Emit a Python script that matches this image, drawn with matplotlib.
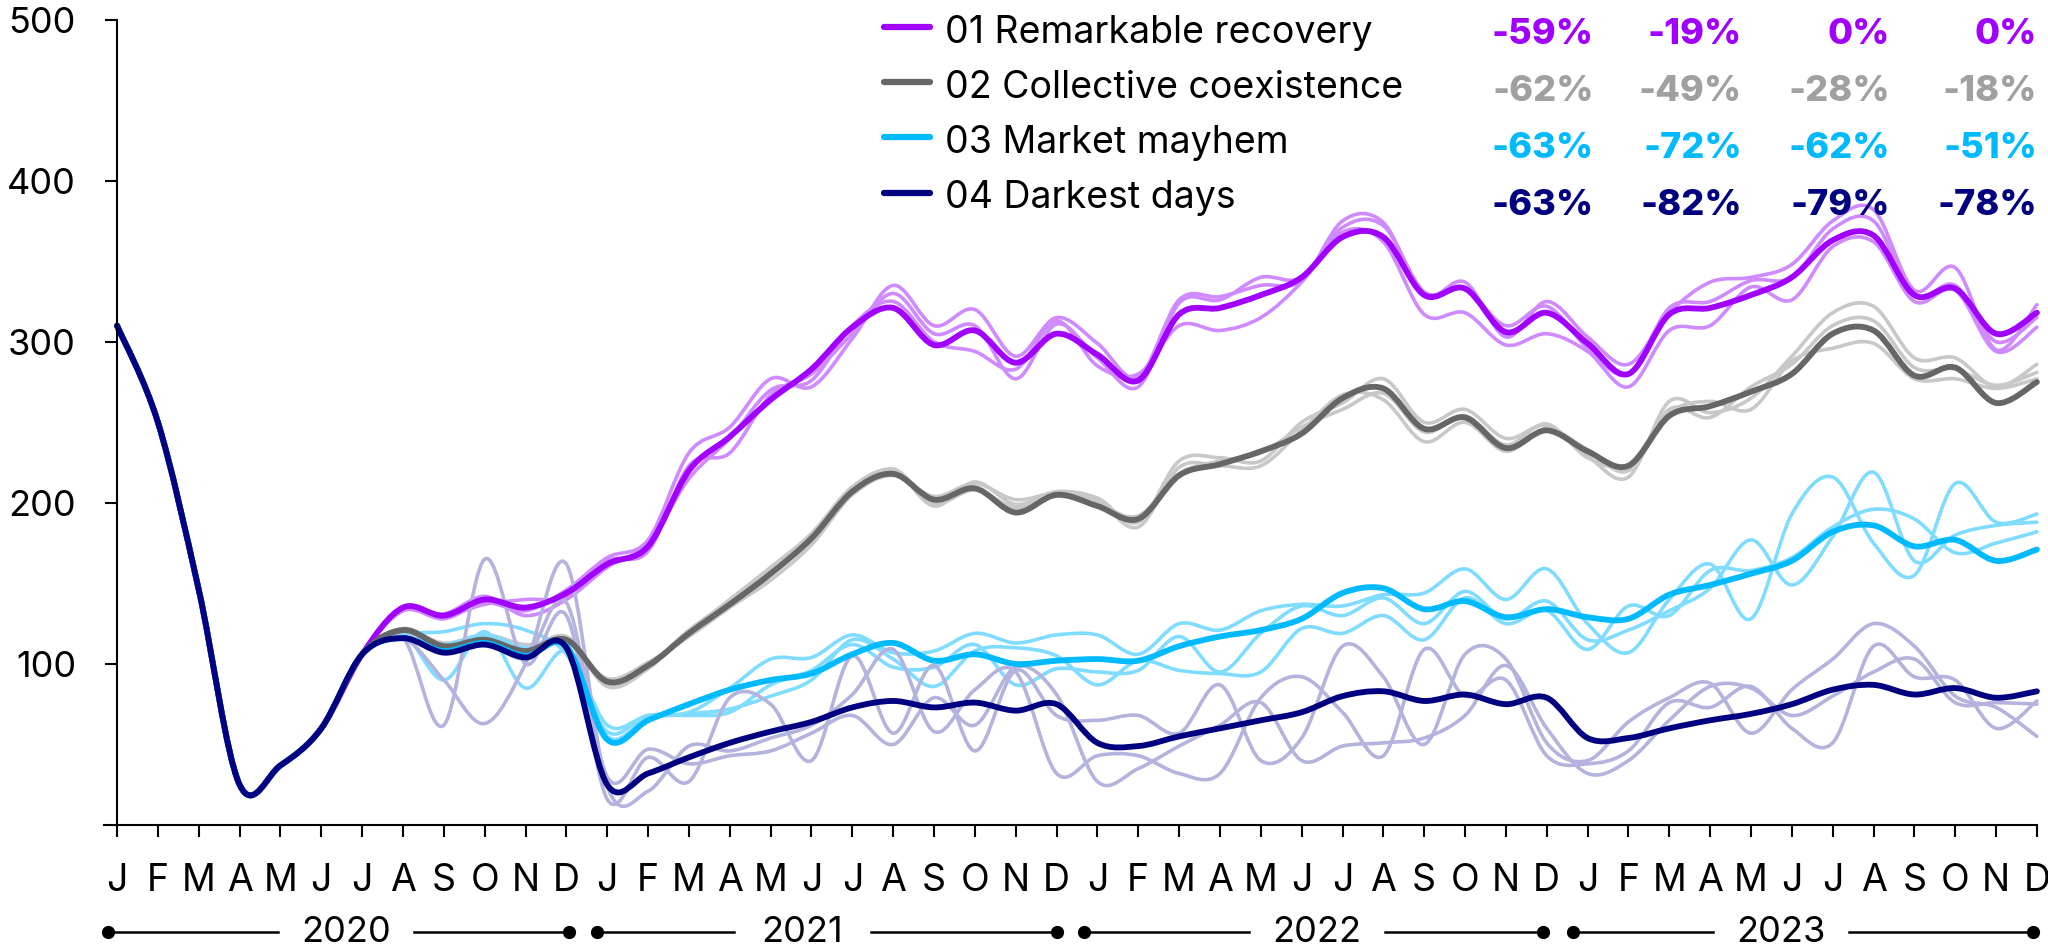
import matplotlib
matplotlib.use("Agg")
import matplotlib.pyplot as plt
from matplotlib.path import Path
from matplotlib.patches import PathPatch
from matplotlib.lines import Line2D
import numpy as np

plt.rcParams['font.family'] = ['Inter', 'DejaVu Sans']

months = ["J", "F", "M", "A", "M", "J", "J", "A", "S", "O", "N", "D"] * 4
years = ["2020", "2021", "2022", "2023"]
year_start = [-0.22, 11.74, 23.67, 35.64]
year_end = [11.06, 23.0, 34.9, 46.9]
year_mid = [5.6, 16.78, 29.37, 40.73]

# Jan-Jul 2020, same for every line
shared = [310, 250, 146, 25, 37, 60, 106]

# Aug 2020 - Dec 2023
recovery = [135, 130, 140, 135, 144,
            162, 173, 220, 241, 264, 283, 309, 321, 298, 307, 287, 305,
            292, 276, 317, 321, 329, 340, 365, 365, 329, 333, 306, 318,
            299, 280, 317, 321, 329, 340, 363, 366, 329, 333, 305, 318]
recovery_alt1 = [133, 128, 138, 133, 146,
                 166, 177, 231, 247, 277, 272, 302, 335, 310, 320, 291, 315,
                 299, 278, 326, 328, 335, 338, 375, 374, 329, 337, 303, 325,
                 303, 286, 318, 337, 340, 348, 375, 382, 332, 346, 295, 323]
recovery_alt2 = [135, 130, 137, 140, 142,
                 164, 170, 223, 231, 267, 280, 305, 330, 305, 310, 277, 311,
                 290, 272, 324, 326, 340, 340, 371, 372, 331, 333, 310, 322,
                 296, 280, 321, 325, 338, 340, 370, 375, 329, 335, 300, 315]
recovery_alt3 = [133, 131, 142, 130, 140,
                 160, 175, 215, 240, 270, 276, 310, 325, 300, 294, 283, 313,
                 285, 280, 310, 307, 315, 337, 368, 362, 317, 318, 298, 305,
                 294, 272, 307, 310, 334, 326, 359, 362, 325, 332, 294, 309]

coexist = [121, 111, 115, 108, 115,
           89, 99, 119, 137, 156, 178, 207, 218, 202, 209, 194, 205,
           198, 190, 217, 224, 232, 243, 265, 271, 246, 253, 234, 245,
           232, 223, 254, 260, 269, 280, 305, 307, 279, 284, 262, 275]
coexist_alt1 = [120, 113, 117, 110, 116,
                86, 97, 120, 140, 160, 181, 210, 220, 198, 213, 199, 207,
                203, 188, 226, 228, 226, 250, 262, 277, 250, 258, 240, 248,
                229, 216, 263, 256, 265, 291, 318, 322, 290, 290, 272, 286]
coexist_alt2 = [119, 110, 118, 112, 114,
                91, 101, 117, 135, 152, 174, 205, 217, 204, 212, 202, 206,
                201, 185, 222, 223, 223, 245, 267, 264, 238, 250, 232, 246,
                233, 220, 258, 253, 272, 286, 310, 313, 284, 283, 273, 281]
coexist_alt3 = [122, 112, 114, 109, 117,
                88, 99, 121, 139, 158, 180, 208, 221, 200, 208, 197, 204,
                199, 192, 218, 226, 231, 247, 258, 268, 244, 254, 236, 249,
                228, 224, 256, 263, 258, 288, 296, 299, 277, 277, 271, 277]

mayhem = [116, 108, 113, 105, 111,
          53, 65, 75, 84, 90, 94, 106, 113, 102, 106, 100, 102,
          103, 102, 111, 117, 121, 128, 144, 147, 134, 139, 129, 134,
          129, 128, 143, 149, 156, 164, 182, 186, 173, 177, 164, 171]
mayhem_alt1 = [118, 90, 120, 85, 108,
               62, 68, 70, 85, 103, 104, 118, 107, 108, 119, 113, 118,
               118, 106, 125, 121, 133, 137, 136, 143, 144, 159, 140, 159,
               125, 107, 140, 162, 128, 193, 216, 175, 155, 212, 188, 193]
mayhem_alt2 = [118, 120, 125, 121, 106,
               58, 68, 68, 70, 87, 96, 112, 98, 98, 112, 87, 97,
               95, 96, 117, 95, 119, 136, 130, 141, 125, 145, 128, 139,
               115, 121, 133, 147, 177, 149, 179, 219, 164, 180, 186, 188]
mayhem_alt3 = [116, 112, 118, 110, 110,
               55, 66, 69, 72, 80, 90, 115, 103, 86, 108, 110, 105,
               87, 102, 96, 94, 95, 122, 119, 130, 115, 141, 125, 133,
               109, 136, 130, 158, 158, 166, 185, 196, 190, 169, 175, 182]

darkest = [116, 107, 112, 104, 110,
           25, 32, 42, 51, 58, 64, 73, 77, 73, 76, 71, 75,
           51, 49, 55, 60, 65, 70, 80, 83, 77, 81, 75, 79,
           54, 54, 60, 65, 69, 75, 84, 87, 81, 85, 79, 83]
darkest_alt1 = [116, 62, 165, 100, 130,
                16, 42, 27, 79, 75, 40, 105, 57, 99, 46, 96, 68,
                65, 68, 57, 87, 40, 54, 111, 92, 50, 106, 103, 51,
                40, 64, 79, 88, 57, 84, 103, 125, 111, 80, 73, 55]
darkest_alt2 = [116, 90, 63, 100, 162,
                24, 21, 49, 46, 54, 62, 81, 109, 58, 84, 95, 32,
                43, 43, 32, 32, 79, 92, 70, 43, 109, 80, 90, 43,
                38, 46, 76, 73, 86, 60, 51, 111, 92, 90, 60, 77]
darkest_alt3 = [116, 108, 115, 104, 138,
                30, 47, 38, 43, 46, 57, 68, 50, 79, 62, 98, 81,
                27, 35, 49, 62, 76, 40, 49, 51, 54, 68, 99, 60,
                32, 40, 65, 86, 85, 68, 80, 95, 103, 76, 76, 75]

names = ["01 Remarkable recovery", "02 Collective coexistence",
         "03 Market mayhem", "04 Darkest days"]
pct = [["-59%", "-19%", "0%", "0%"],
       ["-62%", "-49%", "-28%", "-18%"],
       ["-63%", "-72%", "-62%", "-51%"],
       ["-63%", "-82%", "-79%", "-78%"]]

main_colors = ["#A100FF", "#666666", "#00BAFF", "#000080"]
light_colors = ["#D08AFF", "#C8C8C8", "#80DCFF", "#B3B3DE"]
pct_colors = ["#A100FF", "#A0A0A0", "#00BAFF", "#000080"]

mains = [recovery, coexist, mayhem, darkest]
alts = [[recovery_alt1, recovery_alt2, recovery_alt3],
        [coexist_alt1, coexist_alt2, coexist_alt3],
        [mayhem_alt1, mayhem_alt2, mayhem_alt3],
        [darkest_alt1, darkest_alt2, darkest_alt3]]


def smooth_path(ys):
    # catmull-rom through monthly points, as cubic beziers
    pts = np.column_stack([np.arange(len(ys)), ys]).astype(float)
    n = len(pts)
    verts = [pts[0]]
    codes = [Path.MOVETO]
    for i in range(n - 1):
        p0 = pts[max(i - 1, 0)]
        p1 = pts[i]
        p2 = pts[i + 1]
        p3 = pts[min(i + 2, n - 1)]
        verts += [p1 + (p2 - p0) / 6, p2 - (p3 - p1) / 6, p2]
        codes += [Path.CURVE4] * 3
    return Path(verts, codes)


W, H = 2048, 947
fig = plt.figure(figsize=(W / 100, H / 100), dpi=100)
ax = fig.add_axes([104 / W, (H - 825) / H, (2041 - 104) / W, (825 - 19.6) / H])
ax.set_xlim(-0.32, 47.1)
ax.set_ylim(0, 500)

for k in range(4):
    for alt in alts[k]:
        ax.add_patch(PathPatch(smooth_path(shared + alt), fill=False,
                               edgecolor=light_colors[k], lw=2.6,
                               capstyle='round', joinstyle='round'))
for k in range(4):
    ax.add_patch(PathPatch(smooth_path(shared + mains[k]), fill=False,
                           edgecolor=main_colors[k], lw=4.2,
                           capstyle='round', joinstyle='round'))

for s in ['top', 'right']:
    ax.spines[s].set_visible(False)
ax.spines['left'].set_position(('data', 0))
ax.spines['left'].set_bounds(0, 500)
ax.spines['bottom'].set_bounds(-0.32, 47)
for s in ['left', 'bottom']:
    ax.spines[s].set_linewidth(1.5)

ax.set_yticks([100, 200, 300, 400, 500])
ax.set_xticks(range(48))
ax.set_xticklabels(months)
ax.tick_params(axis='y', length=8.6, width=1.5, pad=21, labelsize=26)
ax.tick_params(axis='x', length=8.6, width=1.5, pad=19, labelsize=27)

# year brackets under the month labels
gap = 1.67
row_y = -66.5
for i in range(4):
    ax.plot([year_start[i], year_mid[i] - gap], [row_y, row_y], color='black',
            lw=1.8, clip_on=False)
    ax.plot([year_mid[i] + gap, year_end[i]], [row_y, row_y], color='black',
            lw=1.8, clip_on=False)
    ax.plot([year_start[i], year_end[i]], [row_y, row_y], ls='none', marker='o',
            markersize=8.5, color='black', clip_on=False)
    ax.text(year_mid[i], row_y, years[i], ha='center', va='center',
            fontsize=26, clip_on=False)

# legend and percentage columns
leg_line_y = [26.7, 81.7, 136.7, 192.7]
leg_text_y = [43, 98, 153, 208]
pct_y = [44, 101, 158, 215]
pct_right = [1594, 1742, 1890, 2037]
for r in range(4):
    fig.add_artist(Line2D([884 / W, 930 / W], [1 - leg_line_y[r] / H] * 2,
                          color=main_colors[r], lw=4.5, solid_capstyle='round'))
    fig.text(945 / W, 1 - leg_text_y[r] / H, names[r], fontsize=27,
             ha='left', va='baseline')
    for c in range(4):
        fig.text(pct_right[c] / W, 1 - pct_y[r] / H, pct[r][c], fontsize=26,
                 fontweight='heavy', color=pct_colors[r], ha='right', va='baseline')

fig.savefig("out.png", dpi=100)
